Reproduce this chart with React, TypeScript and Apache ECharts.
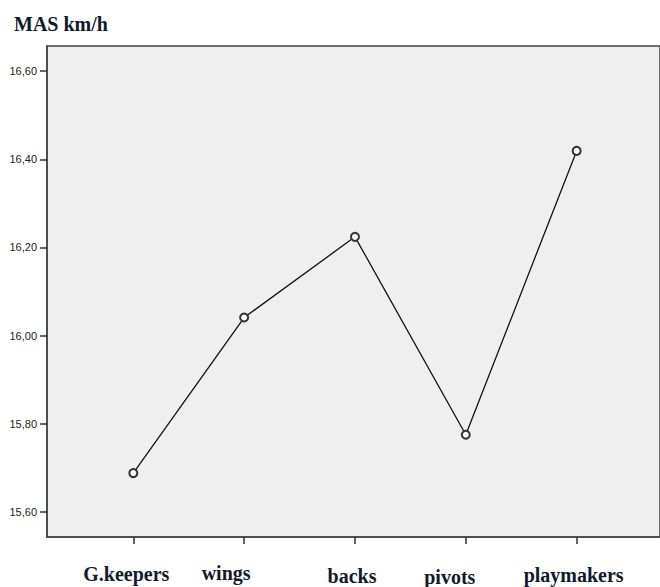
import React, { useEffect, useRef } from "react";
import * as echarts from "echarts";

const categories = ["G.keepers", "wings", "backs", "pivots", "playmakers"];
const masValues = [15.688, 16.041, 16.224, 15.775, 16.419];
const yTicks = [15.6, 15.8, 16.0, 16.2, 16.4, 16.6];
const xPositions = [0, 1, 2, 3, 4];

// per-label offsets [top padding, right padding] to mimic the staggered labels
const labelPad = [
  [1, 14],
  [0, 36],
  [5, 6],
  [8, 32],
  [4, 6],
];

const SERIF = "'Liberation Serif', 'Times New Roman', serif";

export default function App() {
  const ref = useRef<HTMLDivElement>(null);
  useEffect(() => {
    document.body.style.margin = "0";
    const chart = echarts.init(ref.current!, null, { renderer: "svg" });
    const rich: Record<string, any> = {};
    categories.forEach((_, i) => {
      rich["c" + i] = {
        fontFamily: SERIF,
        fontWeight: "bold",
        fontSize: 20,
        color: "#111a2c",
        lineHeight: 20,
        padding: [labelPad[i][0], labelPad[i][1], 0, 0],
      };
    });
    chart.setOption({
      animation: false,
      backgroundColor: "#ffffff",
      title: {
        text: "MAS km/h",
        left: 9,
        top: 9,
        textStyle: {
          fontFamily: SERIF,
          fontWeight: "bold",
          fontSize: 20,
          color: "#111a2c",
        },
      },
      grid: {
        left: 47,
        top: 46,
        right: -5,
        bottom: 50,
        show: true,
        backgroundColor: "#efefef",
        borderColor: "#444",
        borderWidth: 1.5,
      },
      xAxis: {
        type: "value",
        min: -0.7785,
        max: 4.752,
        splitLine: { show: false },
        axisLine: { show: true, onZero: false, lineStyle: { color: "#444", width: 1.5 } },
        axisTick: {
          show: true,
          length: 7,
          customValues: xPositions,
          lineStyle: { color: "#333", width: 1.5 },
        },
        axisLabel: {
          show: true,
          margin: 26,
          customValues: xPositions,
          fontFamily: SERIF,
          formatter: (v: number) => {
            const i = Math.round(v);
            return "{c" + i + "|" + categories[i] + "}";
          },
          rich,
        },
      },
      yAxis: {
        type: "value",
        min: 15.543,
        max: 16.657,
        splitLine: { show: false },
        axisLine: { show: true, onZero: false, lineStyle: { color: "#444", width: 1.5 } },
        axisTick: {
          show: true,
          length: 7,
          customValues: yTicks,
          lineStyle: { color: "#333", width: 1.5 },
        },
        axisLabel: {
          show: true,
          margin: 10,
          customValues: yTicks,
          fontFamily: "'Liberation Sans', Arial, sans-serif",
          fontSize: 11,
          color: "#222",
          formatter: (v: number) => v.toFixed(2).replace(".", ","),
        },
      },
      series: [
        {
          type: "line",
          data: masValues.map((v, i) => [xPositions[i], v]),
          symbol: "emptyCircle",
          symbolSize: 8,
          lineStyle: { color: "#111", width: 1.3 },
          itemStyle: { color: "#333", borderWidth: 1.3 },
        },
      ],
    });
    return () => chart.dispose();
  }, []);
  return <div ref={ref} style={{ width: 660, height: 587 }} />;
}
